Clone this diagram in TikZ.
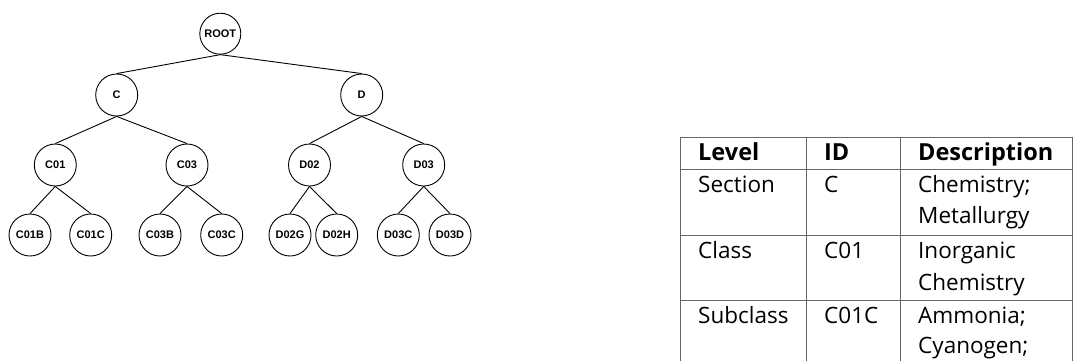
\documentclass[tikz,border=0pt]{standalone}
\usepackage{fontspec}
\setmainfont{Open Sans}
\newfontfamily\treefont{Liberation Sans}
\begin{document}
\begin{tikzpicture}[x=1pt,y=-1pt,
  tn/.style={circle, draw, line width=0.9pt, minimum size=42pt, inner sep=0pt,
    font=\treefont\bfseries\fontsize{11}{13}\selectfont},
  ed/.style={line width=0.9pt},
  tl/.style={line width=1pt, draw=black!60},
  cell/.style={anchor=base west, inner sep=0pt, font=\fontsize{22.5}{26}\selectfont},
  hcell/.style={anchor=base west, inner sep=0pt, font=\bfseries\fontsize{23.5}{26}\selectfont}]
\useasboundingbox (0,0) rectangle (1073,360);
\clip (0,0) rectangle (1073,360);
% tree
\node[tn, minimum size=41pt] (root) at (220.3,33.7) {ROOT};
\node[tn] (c) at (116.7,95) {C};
\node[tn] (d) at (361.7,95) {D};
\node[tn] (c01) at (55.3,165) {C01};
\node[tn] (c03) at (187,165) {C03};
\node[tn] (d02) at (309.5,165) {D02};
\node[tn] (d03) at (423.7,165) {D03};
\node[tn] (c01b) at (30,235) {C01B};
\node[tn] (c01c) at (90.7,235) {C01C};
\node[tn] (c03b) at (160,235) {C03B};
\node[tn] (c03c) at (221.7,235) {C03C};
\node[tn] (d02g) at (290,235) {D02G};
\node[tn] (d02h) at (336.7,235) {D02H};
\node[tn] (d03c) at (398.3,235) {D03C};
\node[tn] (d03d) at (450,235) {D03D};
\draw[ed] (root.south) -- (c.north);
\draw[ed] (root.south) -- (d.north);
\draw[ed] (c.south) -- (c01.north);
\draw[ed] (c.south) -- (c03.north);
\draw[ed] (d.south) -- (d02.north);
\draw[ed] (d.south) -- (d03.north);
\draw[ed] (c01.south) -- (c01b.north);
\draw[ed] (c01.south) -- (c01c.north);
\draw[ed] (c03.south) -- (c03b.north);
\draw[ed] (c03.south) -- (c03c.north);
\draw[ed] (d02.south) -- (d02g.north);
\draw[ed] (d02.south) -- (d02h.north);
\draw[ed] (d03.south) -- (d03c.north);
\draw[ed] (d03.south) -- (d03d.north);
% table
\draw[tl] (680.7,137) -- (1072,137);
\draw[tl] (680.7,169) -- (1072,169);
\draw[tl] (680.7,235) -- (1072,235);
\draw[tl] (680.7,300) -- (1072,300);
\draw[tl] (680.7,136.5) -- (680.7,365);
\draw[tl] (806.7,136.5) -- (806.7,365);
\draw[tl] (900.7,136.5) -- (900.7,365);
\draw[tl] (1072,136.5) -- (1072,365);
\node[hcell] (h1) at (698,160) {Level};
\node[hcell] (h2) at (824,160) {ID};
\node[hcell] (h3) at (918,160) {Description};
\node[cell] (r1a) at (698,192) {Section};
\node[cell] (r1b) at (824,192) {C};
\node[cell] (r1c) at (918,192) {Chemistry;};
\node[cell] (r1d) at (918,223) {Metallurgy};
\node[cell] (r2a) at (698,258) {Class};
\node[cell] (r2b) at (824,258) {C01};
\node[cell] (r2c) at (918,258) {Inorganic};
\node[cell] (r2d) at (918,290) {Chemistry};
\node[cell] (r3a) at (698,323) {Subclass};
\node[cell] (r3b) at (824,323) {C01C};
\node[cell] (r3c) at (918,323) {Ammonia;};
\node[cell] (r3d) at (918,353) {Cyanogen;};
\end{tikzpicture}
\end{document}
